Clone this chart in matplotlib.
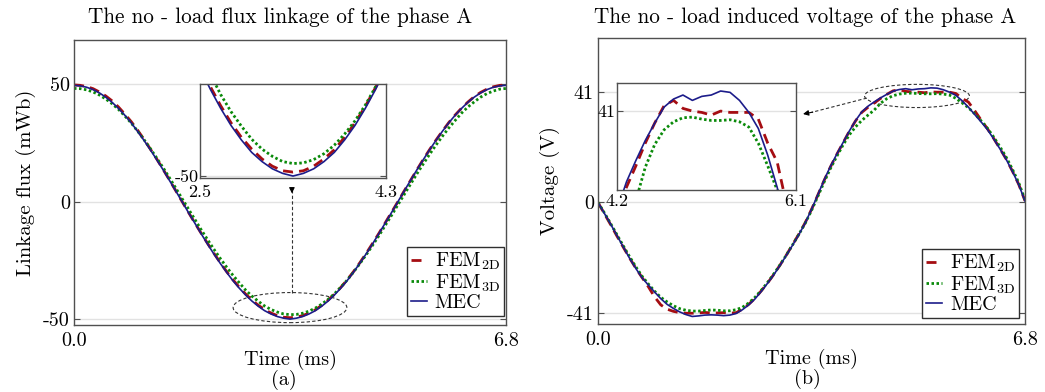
import matplotlib
matplotlib.use("Agg")
import matplotlib.pyplot as plt
from matplotlib.patches import Ellipse

plt.rcParams["font.family"] = "serif"
plt.rcParams["font.serif"] = ["cmr10"]
plt.rcParams["mathtext.fontset"] = "cm"
plt.rcParams["axes.unicode_minus"] = False

# time axis (ms), 0.1 ms steps
t = [i / 10 for i in range(69)]

# flux linkage of phase A (mWb)
flux_mec = [49.4, 49.2, 48.6, 47.6, 46.2, 44.4, 42.2, 39.6, 36.7, 33.5,
            29.9, 26.1, 22.1, 17.9, 13.6, 9.1, 4.6, 0.0, -4.6, -9.1,
            -13.6, -18.0, -22.2, -26.2, -30.0, -33.6, -36.8, -39.7, -42.3, -44.5,
            -46.4, -47.8, -48.9, -49.6, -50.0, -49.6, -48.9, -47.8, -46.4, -44.5,
            -42.3, -39.7, -36.8, -33.6, -30.0, -26.2, -22.2, -18.0, -13.6, -9.1,
            -4.6, 0.0, 4.6, 9.1, 13.6, 17.9, 22.1, 26.1, 29.9, 33.5,
            36.7, 39.6, 42.2, 44.4, 46.2, 47.6, 48.6, 49.2, 49.4]
flux_fem2d = [49.6, 49.4, 48.9, 48.0, 46.6, 44.9, 42.8, 40.2, 37.2, 34.0,
              30.4, 26.5, 22.4, 18.2, 13.8, 9.3, 4.7, 0.1, -4.5, -9.0,
              -13.4, -17.7, -21.9, -25.9, -29.7, -33.2, -36.4, -39.3, -41.9, -44.1,
              -45.9, -47.4, -48.5, -49.2, -49.4, -49.2, -48.5, -47.4, -46.0, -44.1,
              -41.9, -39.4, -36.5, -33.3, -29.8, -26.0, -22.0, -17.8, -13.5, -9.0,
              -4.5, 0.0, 4.6, 9.1, 13.6, 18.0, 22.2, 26.2, 30.0, 33.6,
              36.8, 39.7, 42.3, 44.6, 46.4, 47.8, 48.8, 49.4, 49.6]
flux_fem3d = [48.1, 48.0, 47.5, 46.6, 45.3, 43.6, 41.6, 39.2, 36.4, 33.4,
              30.0, 26.4, 22.6, 18.6, 14.5, 10.2, 5.8, 1.3, -3.1, -7.5,
              -11.9, -16.1, -20.2, -24.1, -27.8, -31.3, -34.5, -37.6, -40.2, -42.4,
              -44.4, -45.9, -47.0, -47.8, -48.1, -48.0, -47.5, -46.6, -45.3, -43.6,
              -41.6, -39.2, -36.4, -33.4, -30.0, -26.4, -22.6, -18.6, -14.5, -10.1,
              -5.8, -1.3, 3.1, 7.5, 11.9, 16.1, 20.2, 24.1, 27.8, 31.3,
              34.5, 37.6, 40.2, 42.4, 44.4, 45.9, 47.0, 47.8, 48.1]

# induced voltage of phase A (V)
volt_mec = [0.0, -4.0, -8.0, -12.2, -16.4, -20.6, -24.4, -27.9, -30.6, -33.2,
            -35.7, -37.8, -39.3, -40.6, -41.6, -42.3, -42.1, -41.8, -41.7, -41.8,
            -42.0, -41.8, -41.2, -39.8, -38.0, -35.8, -33.0, -30.0, -26.8, -23.3,
            -19.6, -15.8, -11.9, -7.6, -2.6, 2.8, 8.3, 13.3, 17.8, 22.1,
            26.4, 30.3, 33.6, 35.7, 37.3, 38.8, 40.1, 41.3, 41.9, 42.2,
            41.8, 42.1, 42.2, 42.5, 42.4, 41.8, 40.9, 39.7, 37.7, 35.3,
            32.6, 29.9, 27.1, 23.6, 19.9, 16.0, 11.5, 6.6, 0.5]
volt_fem2d = [0.0, -4.1, -8.2, -12.4, -16.5, -20.5, -24.3, -27.8, -31.2, -35.0,
              -38.0, -39.6, -40.4, -40.9, -41.1, -41.1, -41.0, -40.8, -41.0, -41.0,
              -40.9, -41.1, -40.9, -39.6, -37.8, -35.6, -32.8, -29.9, -26.7, -23.2,
              -19.5, -15.6, -11.7, -7.5, -2.6, 2.7, 8.1, 13.1, 17.7, 22.0,
              26.3, 30.2, 33.4, 35.3, 36.9, 38.6, 40.1, 41.4, 41.8, 41.2,
              41.0, 40.9, 40.7, 41.0, 40.9, 40.9, 40.9, 40.4, 38.6, 37.2,
              34.0, 30.6, 27.4, 23.8, 20.0, 16.1, 11.6, 6.7, 0.6]
volt_fem3d = [0.0, -3.8, -7.8, -11.9, -16.0, -20.0, -23.8, -27.3, -30.2, -32.9,
              -35.2, -36.9, -38.3, -39.4, -40.0, -40.3, -40.3, -40.1, -39.9, -40.0,
              -40.2, -40.2, -39.8, -38.9, -37.3, -35.2, -32.6, -29.7, -26.5, -23.1,
              -19.5, -15.7, -11.8, -7.7, -3.0, 2.2, 7.5, 12.5, 17.0, 21.2,
              25.0, 28.0, 30.4, 32.4, 34.3, 36.8, 38.5, 39.6, 40.2, 40.5,
              40.55, 40.4, 40.3, 40.3, 40.35, 40.2, 39.8, 38.6, 36.9, 35.1,
              32.9, 30.3, 27.6, 24.3, 20.7, 16.8, 12.3, 7.3, 1.0]

labels = ["FEM$_{\\mathrm{2D}}$", "FEM$_{\\mathrm{3D}}$", "MEC"]
c_red, c_green, c_blue = "#a50d12", "#0a8a0a", "#1c1c8a"
spine_c = "#505050"
grid_c = "#e2e2e2"
FS = 14.5


def draw_curves(ax, fem2d, fem3d, mec):
    ax.plot(t, fem2d, color=c_red, lw=2.0, ls=(0, (3.6, 2.2)), label=labels[0])
    ax.plot(t, fem3d, color=c_green, lw=2.0, ls=(0, (0.9, 0.9)), label=labels[1])
    ax.plot(t, mec, color=c_blue, lw=1.2, label=labels[2])


def style_axes(ax, yticks, ylabels, tsize=FS):
    for s in ax.spines.values():
        s.set_color(spine_c)
        s.set_linewidth(1.0)
    ax.set_yticks(yticks)
    ax.set_yticklabels(ylabels)
    ax.tick_params(axis="y", direction="in", length=4, width=0.8, color=spine_c,
                   right=True, labelsize=tsize, pad=3)
    ax.tick_params(axis="x", length=0, labelsize=tsize, pad=5)
    ax.grid(axis="y", color=grid_c, lw=1.0)
    ax.set_axisbelow(True)


def add_legend(ax, anchor):
    leg = ax.legend(loc="lower right", bbox_to_anchor=anchor, borderaxespad=0,
                    fontsize=FS, handlelength=0.8, handletextpad=0.4, labelspacing=0.0,
                    borderpad=0.2, fancybox=False, framealpha=1, edgecolor="#303030")
    leg.get_frame().set_linewidth(1.0)


fig = plt.figure(figsize=(10.45, 3.92), dpi=100)

# ---- (a) flux linkage ----
ax1 = fig.add_axes([74 / 1045, 1 - 325 / 392, 432 / 1045, 285 / 392])
draw_curves(ax1, flux_fem2d, flux_fem3d, flux_mec)
ax1.set_xlim(0, 6.8)
ax1.set_ylim(-52.5, 68.7)
ax1.set_xticks([0, 6.8])
ax1.set_xticklabels(["0.0", "6.8"])
style_axes(ax1, [-50, 0, 50], ["-50", "0", "50"])
ax1.set_xlabel("Time (ms)", fontsize=FS, labelpad=0)
ax1.set_ylabel("Linkage flux (mWb)", fontsize=15, labelpad=5)
add_legend(ax1, (0.995, 0.032))
ax1.add_patch(Ellipse((3.4, -45.1), 1.79, 12.8, fill=False, ls=(0, (3, 2)),
                      lw=0.8, ec="#333333"))
ax1.plot([3.43, 3.43], [-38.7, 5.0], ls=(0, (3, 2)), lw=0.8, color="#333333")
ax1.annotate("", xy=(3.43, 3.5), xytext=(3.43, 5.5),
             arrowprops=dict(arrowstyle="-|>", color="black", lw=0.8,
                             mutation_scale=8, shrinkA=0, shrinkB=0))
fig.text(280 / 1045, 1 - 17 / 392, "The no - load flux linkage of the phase A",
         ha="center", va="center", fontsize=15.3)
fig.text(284 / 1045, 1 - 380 / 392, "(a)", ha="center", va="center", fontsize=FS)

ins1 = fig.add_axes([200 / 1045, 1 - 178 / 392, 186 / 1045, 94 / 392])
draw_curves(ins1, flux_fem2d, flux_fem3d, flux_mec)
ins1.set_xlim(2.5, 4.3)
ins1.set_ylim(-50.3, -36.0)
ins1.set_xticks([2.5, 4.3])
ins1.set_xticklabels(["2.5", "4.3"])
style_axes(ins1, [-50], ["-50"], tsize=13)
ins1.tick_params(axis="y", pad=1)
ins1.tick_params(axis="x", pad=5)

# ---- (b) induced voltage ----
ax2 = fig.add_axes([598 / 1045, 1 - 324 / 392, 427 / 1045, 286 / 392])
draw_curves(ax2, volt_fem2d, volt_fem3d, volt_mec)
ax2.set_xlim(0, 6.8)
ax2.set_ylim(-45.1, 61.0)
ax2.set_xticks([0, 6.8])
ax2.set_xticklabels(["0.0", "6.8"])
style_axes(ax2, [-41, 0, 41], ["-41", "0", "41"])
ax2.set_xlabel("Time (ms)", fontsize=FS, labelpad=0)
ax2.set_ylabel("Voltage (V)", fontsize=15, labelpad=5)
add_legend(ax2, (0.986, 0.021))
ax2.add_patch(Ellipse((5.08, 39.5), 1.67, 8.6, fill=False, ls=(0, (3, 2)),
                      lw=0.8, ec="#333333"))
ax2.plot([4.28, 3.40], [38.7, 33.4], ls=(0, (3, 2)), lw=0.8, color="#333333")
ax2.annotate("", xy=(3.265, 32.8), xytext=(3.42, 33.5),
             arrowprops=dict(arrowstyle="-|>", color="black", lw=0.8,
                             mutation_scale=8, shrinkA=0, shrinkB=0))
fig.text(805 / 1045, 1 - 17 / 392, "The no - load induced voltage of the phase A",
         ha="center", va="center", fontsize=15.3)
fig.text(807 / 1045, 1 - 379 / 392, "(b)", ha="center", va="center", fontsize=FS)

ins2 = fig.add_axes([617 / 1045, 1 - 190 / 392, 179 / 1045, 107 / 392])
draw_curves(ins2, volt_fem2d, volt_fem3d, volt_mec)
ins2.set_xlim(4.2, 6.1)
ins2.set_ylim(35.1, 43.1)
ins2.set_xticks([4.2, 6.1])
ins2.set_xticklabels(["4.2", "6.1"])
style_axes(ins2, [41], ["41"], tsize=13)
ins2.tick_params(axis="y", pad=1)
ins2.tick_params(axis="x", pad=3)

fig.savefig("out.png", dpi=100)
